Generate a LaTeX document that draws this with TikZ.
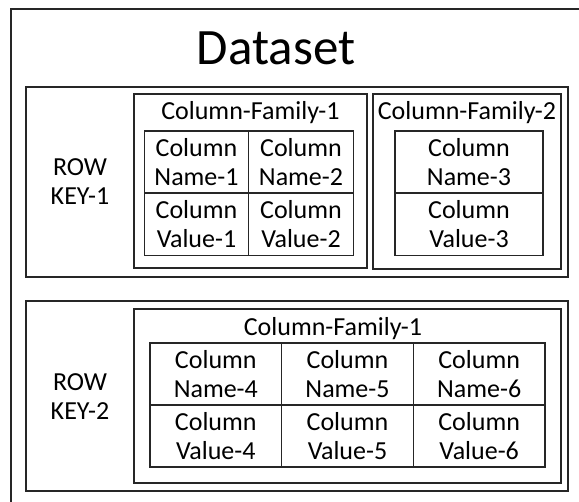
\documentclass[tikz,border=0pt]{standalone}
\usepackage{fontspec}
\setmainfont{Carlito}
\begin{document}
\begin{tikzpicture}[x=1pt, y=-1pt,
        rowbox/.style={draw=black!85, line width=1.7pt, inner sep=0pt},
        familybox/.style={draw=black!85, line width=1.4pt, inner sep=0pt},
        cell/.style={draw=black!85, line width=1.3pt, inner sep=0pt, align=center,
            minimum height=62pt, font=\fontsize{26}{29}\selectfont},
        txt/.style={inner sep=0pt, align=center, font=\fontsize{26}{29}\selectfont}]
    \useasboundingbox (0,0) rectangle (579,502);
    \draw[draw=black!85, line width=1.7pt] (11,9) rectangle (600,530);
    \node[anchor=base, inner sep=0pt, font=\fontsize{51}{60}\selectfont] (title) at (276,65) {Dataset};
    % first row
    \node[rowbox, minimum width=542pt, minimum height=190pt] (row1) at (297,182) {};
    \node[txt] (key1) at (80,182) {ROW\\KEY-1};
    \node[familybox, minimum width=233pt, minimum height=174pt] (fam11) at (250.5,181) {};
    \node[txt, anchor=base] (fam11t) at (250.5,120) {Column-Family-1};
    \node[cell, minimum width=104.5pt] (name1) at (196.5,162) {Column\\Name-1};
    \node[cell, minimum width=104.5pt] (name2) at (301,162) {Column\\Name-2};
    \node[cell, minimum width=104.5pt] (val1) at (196.5,224.5) {Column\\Value-1};
    \node[cell, minimum width=104.5pt] (val2) at (301,224.5) {Column\\Value-2};
    \node[familybox, minimum width=188pt, minimum height=175pt] (fam12) at (467,181.5) {};
    \node[txt, anchor=base] (fam12t) at (467,120) {Column-Family-2};
    \node[cell, minimum width=148pt] (name3) at (469,162) {Column\\Name-3};
    \node[cell, minimum width=148pt] (val3) at (469,224.5) {Column\\Value-3};
    % second row
    \node[rowbox, minimum width=542pt, minimum height=190pt] (row2) at (297,396) {};
    \node[txt] (key2) at (80,396.5) {ROW\\KEY-2};
    \node[familybox, minimum width=427pt, minimum height=174pt] (fam21) at (347.5,396) {};
    \node[txt, anchor=base] (fam21t) at (333,336) {Column-Family-1};
    \node[cell, minimum width=131.7pt] (name4) at (215.8,374) {Column\\Name-4};
    \node[cell, minimum width=131.7pt] (name5) at (347.5,374) {Column\\Name-5};
    \node[cell, minimum width=131.7pt] (name6) at (479.2,374) {Column\\Name-6};
    \node[cell, minimum width=131.7pt] (val4) at (215.8,436) {Column\\Value-4};
    \node[cell, minimum width=131.7pt] (val5) at (347.5,436) {Column\\Value-5};
    \node[cell, minimum width=131.7pt] (val6) at (479.2,436) {Column\\Value-6};
\end{tikzpicture}
\end{document}
